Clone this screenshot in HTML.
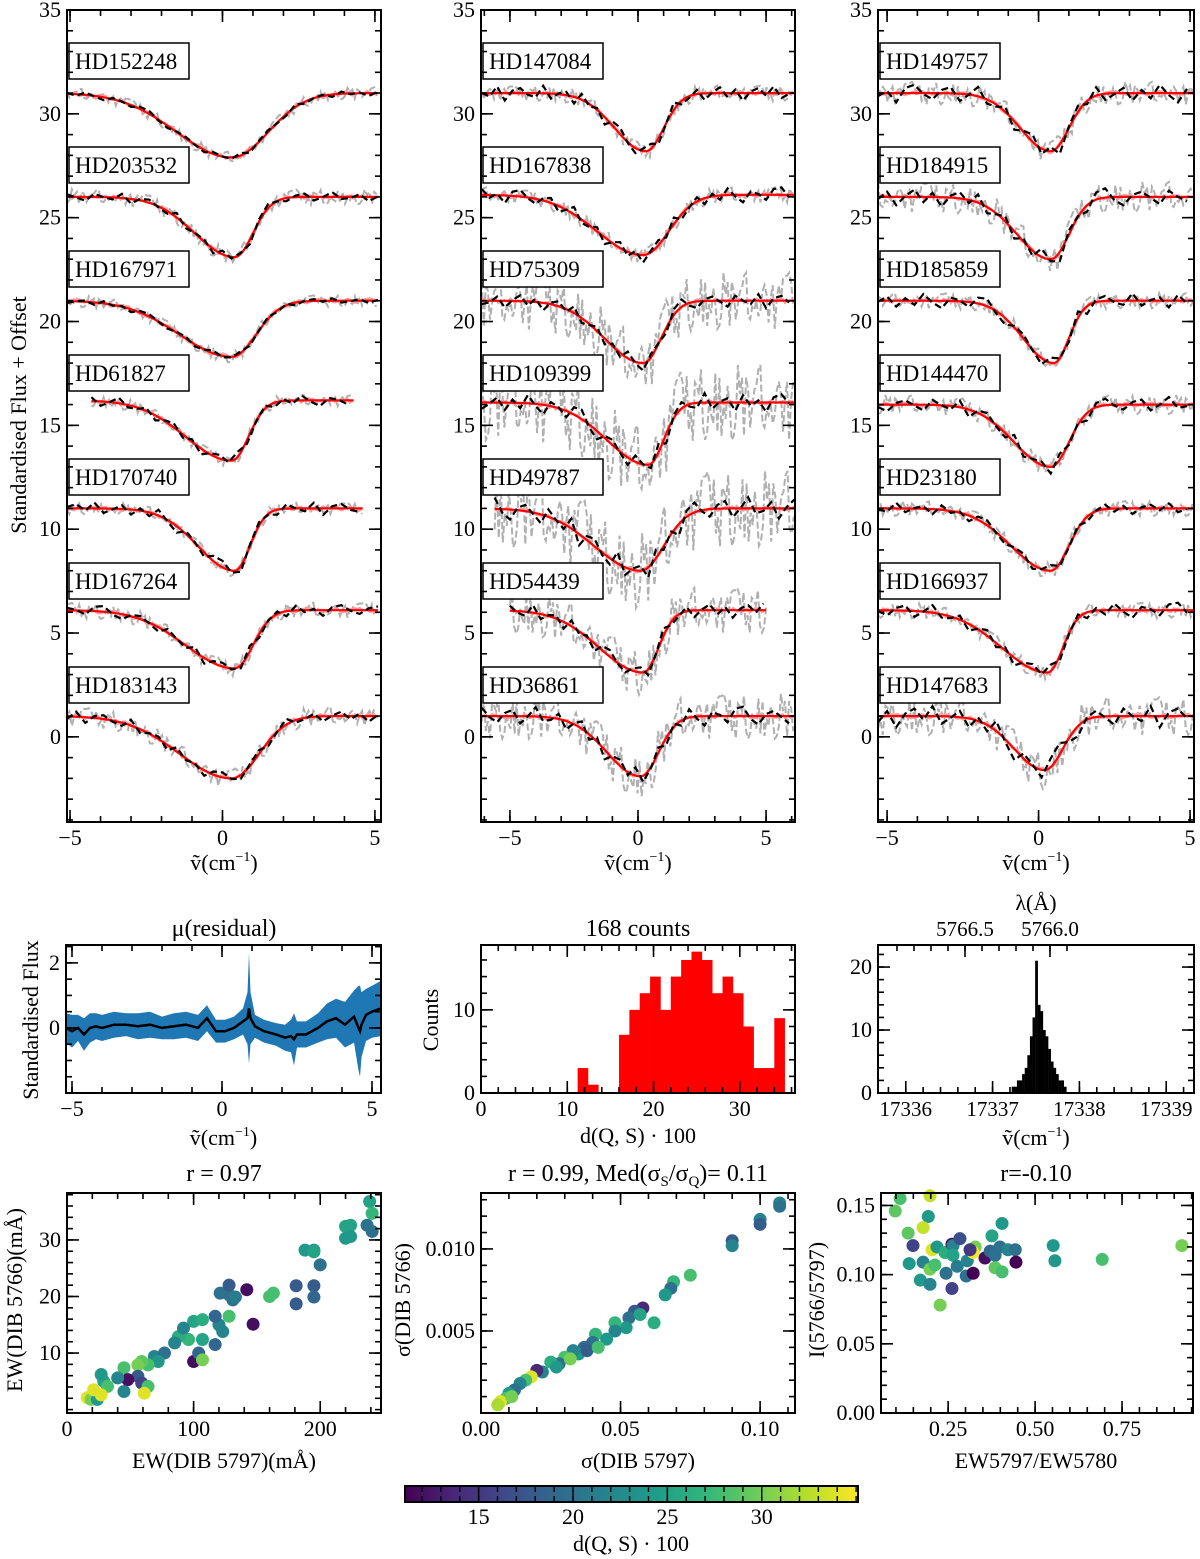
<!DOCTYPE html>
<html><head><meta charset="utf-8"><style>
html,body{margin:0;padding:0;background:#fff;}
svg{display:block;font-family:"Liberation Serif",serif;}
</style></head><body>
<svg id="fig" width="1200" height="1559" viewBox="0 0 1200 1559" xmlns="http://www.w3.org/2000/svg">
<defs>
<linearGradient id="vir" x1="0" x2="1" y1="0" y2="0">
<stop offset="0" stop-color="#440154"/><stop offset="0.11" stop-color="#482878"/><stop offset="0.22" stop-color="#3e4a89"/><stop offset="0.33" stop-color="#31688e"/><stop offset="0.44" stop-color="#26828e"/><stop offset="0.56" stop-color="#1f9e89"/><stop offset="0.67" stop-color="#35b779"/><stop offset="0.78" stop-color="#6ece58"/><stop offset="0.89" stop-color="#b5de2b"/><stop offset="1" stop-color="#fde725"/>
</linearGradient>
</defs>
</svg>
<script>
// ---------- data ----------
const leftStars = ["HD152248","HD203532","HD167971","HD61827","HD170740","HD167264","HD183143"];
const midStars = ["HD147084","HD167838","HD75309","HD109399","HD49787","HD54439","HD36861"];
const rightStars = ["HD149757","HD184915","HD185859","HD144470","HD23180","HD166937","HD147683"];
// base, depth, center, sigmaLeft, sigmaRight, xmin, xmax, grayAmp, blackAmp
const leftParams = [[31,3.1,0.3,1.8,1.2,-5.1,5.1,0.3,0.15],[26,2.9,0.4,1.3,0.6,-5.1,5.1,0.4,0.25],[21,2.7,0.3,1.7,0.8,-5.1,5.1,0.3,0.15],[16.2,2.9,0.3,1.5,0.55,-4.3,4.3,0.3,0.3],[11,3.0,0.4,1.2,0.5,-5.1,4.6,0.3,0.35],[6.1,2.8,0.4,1.6,0.6,-5.1,5.1,0.4,0.3],[1.0,3.0,0.3,1.7,0.9,-5.1,5.1,0.5,0.3]];
const midParams = [[31,2.8,0.3,1.2,0.7,-6.1,6.1,0.4,0.4],[26.1,2.9,0.2,1.8,1.0,-6.1,6.1,0.4,0.4],[21,3.0,0.2,1.5,0.7,-6.1,6.1,1.5,0.4],[16.1,3.0,0.4,1.6,0.6,-6.1,6.1,2.0,0.5],[11,3.0,0.1,1.8,0.9,-5.6,6.1,2.0,0.6],[6.1,3.0,0.2,1.7,0.6,-5.0,5.0,1.2,0.4],[1.0,2.9,0.1,1.3,0.7,-6.1,6.1,1.2,0.5]];
const rightParams = [[31,2.8,0.4,1.0,0.6,-5.3,5.1,0.6,0.5],[26,3.0,0.4,1.1,0.6,-5.3,5.1,0.8,0.5],[21,3.0,0.5,1.0,0.5,-5.3,5.1,0.4,0.4],[16,3.0,0.4,1.2,0.6,-5.3,5.1,0.5,0.4],[11,3.0,0.4,1.3,0.6,-5.3,5.1,0.4,0.3],[6.1,3.0,0.3,1.5,0.5,-5.3,5.1,0.4,0.4],[1.0,2.6,0.2,1.0,0.6,-5.3,5.1,1.0,0.6]];
const noisePattern = [0.3,-0.5,0.8,-0.2,-0.9,0.4,0.1,-0.6,0.7,0.9,-0.3,-0.8,0.2,0.5,-0.1,-0.7,0.6,0.0,-0.4,0.8,-0.9,0.3,0.6,-0.2,-0.5,0.9,-0.6,0.1,0.4,-0.8,0.7,-0.3,0.2,-0.9,0.5,0.8,-0.1,-0.6,0.3,0.6,-0.7,0.0,0.9,-0.4,-0.2,0.5,-0.8,0.1,0.7,-0.5,0.4,-0.9,0.2,0.6,-0.3,0.8,-0.6,-0.1,0.5,-0.7];

const residX = [-5.2,-5.0,-4.8,-4.6,-4.4,-4.2,-4.0,-3.6,-3.2,-2.8,-2.4,-2.0,-1.6,-1.2,-0.8,-0.5,-0.2,0.1,0.4,0.7,0.85,0.9,0.95,1.1,1.4,1.8,2.1,2.3,2.4,2.5,2.8,3.2,3.5,3.8,4.1,4.4,4.55,4.6,4.65,4.8,5.0,5.3];
const residMean = [0.0,-0.1,0.0,-0.2,0.0,0.05,0.0,0.1,0.1,0.05,0.1,0.0,0.05,0.1,0.0,0.3,-0.1,-0.1,0.0,0.2,0.3,0.6,0.3,0.05,-0.1,-0.2,-0.3,-0.25,-0.35,-0.2,-0.2,0.0,0.2,0.3,0.1,0.35,0.0,-0.1,0.1,0.4,0.5,0.6];
const residBand = [0.45,0.5,0.4,0.5,0.45,0.4,0.4,0.4,0.35,0.4,0.4,0.35,0.4,0.4,0.4,0.4,0.35,0.35,0.35,0.4,0.8,1.7,0.8,0.35,0.35,0.35,0.4,0.5,0.8,0.4,0.4,0.45,0.55,0.6,0.7,0.8,1.3,1.4,1.0,0.8,0.8,0.85];

const countBins = [11.2,12.4,13.6,14.8,16.0,17.2,18.4,19.6,20.8,22.0,23.2,24.4,25.6,26.8,28.0,29.2,30.4,31.6,32.8,34.0];
const countVals = [3,1,0,0,7,10,12,14,10,14,16,17,16,12,14,12,8,3,3,9];
const countWidth = 1.2;

const waveBins = [17337.22,17337.25,17337.28,17337.31,17337.34,17337.37,17337.40,17337.43,17337.46,17337.49,17337.52,17337.55,17337.58,17337.61,17337.64,17337.67,17337.70,17337.73,17337.76,17337.79,17337.82];
const waveVals = [1,1,2,2,3,4,6,9,12,21,14,13,10,9,7,5,4,3,2,2,1];
const waveWidth = 0.03;

const ewX = [239,241,237,241,220,224,220,224,188,195,195,200,181,181,195,195,160,163,147,142,121,128,131,133,128,120,123,117,117,128,100,107,107,96,88,85,92,100,104,107,69,77,72,64,59,56,45,56,48,59,64,61,40,29,27,32,45,16,19,24,27,21];
const ewY = [36.8,34.7,32.6,31.5,32.4,32.6,30.3,30.6,28.2,28.2,27.9,25.6,21.9,18.7,21.9,19.9,20.0,20.6,15.1,21.2,20.6,20.3,19.4,19.9,22.0,15.0,13.8,16.5,11.5,16.5,15.6,15.9,12.4,12.4,12.9,11.8,14.4,8.5,10.0,8.8,9.4,10.0,8.5,7.9,8.5,7.9,7.4,5.9,5.3,4.7,4.1,2.9,5.6,5.0,6.2,4.1,3.2,2.1,1.8,1.8,2.6,3.5];
const ewC = [25,27,20,20,25,25,24,24,24,24,25,20,18,18,18,19,28,28,12,12,20,20,20,21,18,22,22,19,19,28,25,26,25,27,26,22,22,12,19,30,22,20,24,28,29,30,28,18,12,16,28,34,22,25,24,28,22,34,30,24,34,34];

const sigX = [0.107,0.107,0.100,0.100,0.090,0.090,0.075,0.069,0.068,0.066,0.058,0.055,0.053,0.052,0.048,0.048,0.041,0.040,0.037,0.035,0.033,0.030,0.028,0.025,0.022,0.020,0.018,0.016,0.014,0.012,0.010,0.009,0.007,0.006,0.011,0.045,0.032,0.027,0.038,0.042,0.057,0.062];
const sigY = [0.0128,0.0126,0.0118,0.0115,0.0105,0.0102,0.0084,0.0080,0.0076,0.0072,0.0064,0.0062,0.0058,0.0052,0.0055,0.0050,0.0048,0.0043,0.0040,0.0036,0.0038,0.0034,0.0030,0.0031,0.0025,0.0026,0.0022,0.0020,0.0018,0.0014,0.0012,0.0009,0.0007,0.0005,0.0010,0.0045,0.0033,0.0028,0.0038,0.0040,0.0060,0.0055];
const sigC = [22,20,22,18,18,22,28,27,20,24,14,18,20,24,27,22,27,20,19,24,22,28,20,26,22,14,34,28,22,20,24,28,34,32,30,24,30,24,18,28,25,26];

const ratX = [0.112,0.098,0.198,0.193,0.178,0.135,0.149,0.138,0.170,0.198,0.227,0.204,0.218,0.178,0.198,0.212,0.241,0.261,0.264,0.284,0.264,0.244,0.276,0.261,0.305,0.302,0.322,0.328,0.322,0.313,0.376,0.405,0.356,0.371,0.385,0.399,0.422,0.443,0.445,0.385,0.405,0.552,0.557,0.693,0.922];
const ratY = [0.155,0.146,0.157,0.142,0.134,0.130,0.121,0.108,0.096,0.093,0.078,0.118,0.120,0.109,0.104,0.107,0.116,0.122,0.121,0.126,0.114,0.101,0.106,0.090,0.110,0.099,0.101,0.120,0.116,0.118,0.128,0.137,0.112,0.117,0.114,0.120,0.118,0.118,0.109,0.105,0.102,0.121,0.110,0.111,0.121];
const ratC = [28,29,33,24,33,29,16,24,24,22,30,34,24,22,30,28,26,12,22,17,25,20,21,16,22,20,11,30,35,15,25,24,12,19,20,20,22,20,11,29,28,24,24,28,30];

const cbTicks = [15,20,25,30];

// ---------- helpers ----------
const NS = "http://www.w3.org/2000/svg";
const svg = document.getElementById("fig");
function mk(tag, attrs, parent) {
  const e = document.createElementNS(NS, tag);
  for (const k in attrs) e.setAttribute(k, attrs[k]);
  (parent || svg).appendChild(e);
  return e;
}
function txt(str, x, y, size, anchor, parent, rot) {
  const t = mk("text", {x: x, y: y, "font-size": size, "text-anchor": anchor || "middle", fill: "#000"}, parent);
  if (rot) t.setAttribute("transform", "rotate(" + rot + " " + x + " " + y + ")");
  t.textContent = str;
  return t;
}
const vir = [[68,1,84],[72,40,120],[62,74,137],[49,104,142],[38,130,142],[31,158,137],[53,183,121],[110,206,88],[181,222,43],[253,231,37]];
function vcol(v) {
  let t = (v - 11.1) / (35.1 - 11.1); t = Math.max(0, Math.min(1, t));
  const f = t * 9, i = Math.min(8, Math.floor(f)), r = f - i;
  const c = vir[i].map((a, k) => Math.round(a + (vir[i + 1][k] - a) * r));
  return "rgb(" + c.join(",") + ")";
}
function panel(name, x0, x1, y0, y1, xmin, xmax, ymin, ymax) {
  const g = mk("g", {});
  
  
  return {g, x0, x1, y0, y1, sx: v => x0 + (v - xmin) / (xmax - xmin) * (x1 - x0), sy: v => y1 - (v - ymin) / (ymax - ymin) * (y1 - y0), xmin, xmax, ymin, ymax};
}
function frame(p) {
  const r = mk("rect", {x: p.x0, y: p.y0, width: p.x1 - p.x0, height: p.y1 - p.y0, fill: "none", stroke: "#000", "stroke-width": 2}, p.g);
  
  
}
function range(a, b, s) { const o = []; for (let v = a; v <= b + s * 1e-6; v += s) o.push(Math.round(v / s) * s); return o; }
function xticks(p, majors, minors, labels, fs, top) {
  const g = mk("g", {stroke: "#000", "stroke-width": 1.6}, p.g);
  
  
  minors.forEach(v => { const x = p.sx(v); if (x < p.x0 - 0.5 || x > p.x1 + 0.5) return;
    mk("line", {x1: x, x2: x, y1: p.y1, y2: p.y1 - 6}, g); if (top !== false) mk("line", {x1: x, x2: x, y1: p.y0, y2: p.y0 + 6}, g); });
  majors.forEach((v, i) => { const x = p.sx(v);
    mk("line", {x1: x, x2: x, y1: p.y1, y2: p.y1 - 12}, g); if (top !== false) mk("line", {x1: x, x2: x, y1: p.y0, y2: p.y0 + 12}, g);
    const t = txt(labels[i], x, p.y1 + 23, fs || 22, "middle", p.g);
    
     });
}
function yticks(p, majors, minors, labels, fs) {
  const g = mk("g", {stroke: "#000", "stroke-width": 1.6}, p.g);
  
  
  minors.forEach(v => { const y = p.sy(v); if (y < p.y0 - 0.5 || y > p.y1 + 0.5) return;
    mk("line", {x1: p.x0, x2: p.x0 + 6, y1: y, y2: y}, g); mk("line", {x1: p.x1, x2: p.x1 - 6, y1: y, y2: y}, g); });
  majors.forEach((v, i) => { const y = p.sy(v);
    mk("line", {x1: p.x0, x2: p.x0 + 12, y1: y, y2: y}, g); mk("line", {x1: p.x1, x2: p.x1 - 12, y1: y, y2: y}, g);
    const t = txt(labels[i], p.x0 - 6, y + 7, fs || 22, "end", p.g);
    
     });
}
function xlabelNu(p, y) {
  const t = mk("text", {x: (p.x0 + p.x1) / 2, y: y, "font-size": 22, "text-anchor": "middle"}, p.g);
  
  
  const a = mk("tspan", {}, t); a.textContent = "\u1E7D(cm";
  const b = mk("tspan", {"font-size": 14, dy: -9}, t); b.textContent = "\u22121";
  const c = mk("tspan", {dy: 9}, t); c.textContent = ")";
}
function pathD(pts) { return pts.map((q, i) => (i ? "L" : "M") + q[0].toFixed(1) + "," + q[1].toFixed(1)).join(""); }

// ---------- spectral panels ----------
function profile(par, x) {
  const [b, d, c, sl, sr] = par;
  const s = x < c ? sl : sr;
  return b - d * Math.exp(-0.5 * Math.pow((x - c) / s, 2));
}
function specPanel(name, stars, params, x0, x1, xmin, xmax, seedOff) {
  const p = panel(name, x0, x1, 10, 822, xmin, xmax, -4.1, 35);
  const clip = mk("clipPath", {id: "clip-" + name}, svg);
  mk("rect", {x: x0, y: 10, width: x1 - x0, height: 812}, clip);
  const dg = mk("g", {"clip-path": "url(#clip-" + name + ")"}, p.g);
  params.forEach((par, k) => {
    const xa = par[5], xb = par[6];
    const gray = [], black = [], red = [], pink = [];
    let i = 0;
    for (let x = xa; x <= xb + 1e-6; x += 0.08, i++) {
      gray.push([p.sx(x), p.sy(profile(par, x) + par[7] * noisePattern[(i * 7 + k * 11 + seedOff) % 60])]);
      pink.push([p.sx(x), p.sy(profile(par, x) + 0.12 * noisePattern[(i * 3 + k * 5 + seedOff) % 60])]);
    }
    i = 0;
    for (let x = xa; x <= xb + 1e-6; x += 0.3, i++) {
      black.push([p.sx(x), p.sy(profile(par, x) + par[8] * noisePattern[(i + k * 13 + seedOff) % 60])]);
    }
    for (let x = xa; x <= xb + 1e-6; x += 0.05) red.push([p.sx(x), p.sy(profile(par, x))]);
    const g1 = mk("path", {d: pathD(gray), fill: "none", stroke: "#b0b0b0", "stroke-width": 2, "stroke-dasharray": "7,3"}, dg);
    
    
    const g2 = mk("path", {d: pathD(pink), fill: "none", stroke: "#f4a0a0", "stroke-width": 2}, dg);
    
    
    const g3 = mk("path", {d: pathD(red), fill: "none", stroke: "#ff0000", "stroke-width": 2.2}, dg);
    
    
    const g4 = mk("path", {d: pathD(black), fill: "none", stroke: "#000", "stroke-width": 2.2, "stroke-dasharray": "7,4"}, dg);
    
    
    const by = 43 + k * 104;
    const box = mk("rect", {x: x0 + 2, y: by, width: 120, height: 36, fill: "#fff", stroke: "#000", "stroke-width": 1.5}, p.g);
    
    
    const t = txt(stars[k], x0 + 8, by + 26, 23, "start", p.g);
    
    
  });
  frame(p);
  xticks(p, [-5, 0, 5], range(-6, 6, 1), ["\u22125", "0", "5"]);
  yticks(p, range(0, 35, 5), range(-4, 35, 1), range(0, 35, 5).map(String));
  xlabelNu(p, 870);
  return p;
}
specPanel("panel-left-spectra", leftStars, leftParams, 67, 381, -5.1, 5.2, 0);
specPanel("panel-middle-spectra", midStars, midParams, 481, 795, -6.13, 6.13, 17);
specPanel("panel-right-spectra", rightStars, rightParams, 878, 1194, -5.3, 5.13, 31);
const yl = txt("Standardised Flux + Offset", 26, 415, 22, "middle", svg, -90);



// ---------- residual panel ----------
(function () {
  const p = panel("panel-residual", 66, 381, 945, 1093, -5.2, 5.3, -2.0, 2.55);
  const up = residX.map((x, i) => [p.sx(x), p.sy(residMean[i] + residBand[i])]);
  const dn = residX.map((x, i) => [p.sx(x), p.sy(residMean[i] - residBand[i])]).reverse();
  const band = mk("path", {d: pathD(up.concat(dn)) + "Z", fill: "#1f77b4"}, p.g);
  
  
  const m = mk("path", {d: pathD(residX.map((x, i) => [p.sx(x), p.sy(residMean[i])])), fill: "none", stroke: "#000", "stroke-width": 2.5}, p.g);
  
  
  frame(p);
  xticks(p, [-5, 0, 5], range(-5, 5, 1), ["\u22125", "0", "5"]);
  yticks(p, [0, 2], range(-1.5, 2.5, 0.5), ["0", "2"]);
  xlabelNu(p, 1145);
  const t = txt("\u03BC(residual)", 224, 936, 24, "middle", p.g);
  
  
  const y = txt("Standardised Flux", 38, 1020, 22, "middle", p.g, -90);
  
  
})();

// ---------- counts histogram ----------
(function () {
  const p = panel("panel-distance-histogram", 481, 795, 945, 1093, 0, 36.4, 0, 17.8);
  countBins.forEach((b, i) => {
    if (!countVals[i]) return;
    const r = mk("rect", {x: p.sx(b), y: p.sy(countVals[i]), width: p.sx(b + countWidth) - p.sx(b) + 0.3, height: p.sy(0) - p.sy(countVals[i]), fill: "#ff0000"}, p.g);
    
    
  });
  frame(p);
  xticks(p, [0, 10, 20, 30], range(0, 36, 2), ["0", "10", "20", "30"]);
  yticks(p, [0, 10], range(0, 17, 2), ["0", "10"]);
  const t = txt("168 counts", 638, 936, 24, "middle", p.g);
  
  
  const xl = txt("d(Q, S) \u00B7 100", 638, 1143, 22, "middle", p.g);
  
  
  const y = txt("Counts", 438, 1020, 22, "middle", p.g, -90);
  
  
})();

// ---------- wavenumber histogram ----------
(function () {
  const p = panel("panel-wavenumber-histogram", 878, 1194, 945, 1093, 17335.68, 17339.32, 0, 23.5);
  waveBins.forEach((b, i) => {
    const r = mk("rect", {x: p.sx(b), y: p.sy(waveVals[i]), width: p.sx(b + waveWidth) - p.sx(b) + 0.2, height: p.sy(0) - p.sy(waveVals[i]), fill: "#000"}, p.g);
    
    
  });
  frame(p);
  xticks(p, [17336, 17337, 17338, 17339], range(17335.8, 17339.2, 0.2), ["17336", "17337", "17338", "17339"], 21, false);
  yticks(p, [0, 10, 20], range(0, 22, 2), ["0", "10", "20"]);
  const lam = v => 965 + (5766.5 - v) * 170;
  const g = mk("g", {stroke: "#000", "stroke-width": 1.6}, p.g);
  
  
  range(5765.9, 5766.9, 0.1).forEach(v => { const x = lam(v); if (x < 879 || x > 1193) return; mk("line", {x1: x, x2: x, y1: 945, y2: 951}, g); });
  [5766.5, 5766.0].forEach(v => { mk("line", {x1: lam(v), x2: lam(v), y1: 945, y2: 957}, g);
    const t = txt(v.toFixed(1), lam(v), 936, 21, "middle", p.g);
    
     });
  const tl = txt("\u03BB(\u00C5)", 1036, 910, 22, "middle", p.g);
  
  
  xlabelNu(p, 1145);
})();

// ---------- scatter panels ----------
function scatter(name, x0, x1, xmin, xmax, ymin, ymax, xs, ys, cs) {
  const p = panel(name, x0, x1, 1193, 1413, xmin, xmax, ymin, ymax);
  xs.forEach((x, i) => {
    const c = mk("circle", {cx: p.sx(x), cy: p.sy(ys[i]), r: 6.5, fill: vcol(cs[i])}, p.g);
    
    
  });
  frame(p);
  return p;
}
(function () {
  const p = scatter("panel-ew-scatter", 67, 381, 0, 248, -0.6, 38.3, ewX, ewY, ewC);
  xticks(p, [0, 100, 200], range(0, 240, 20), ["0", "100", "200"]);
  yticks(p, [10, 20, 30], range(0, 38, 2), ["10", "20", "30"]);
  const t = txt("r =  0.97", 224, 1181, 24, "middle", p.g);
  
  
  const xl = txt("EW(DIB 5797)(m\u00C5)", 224, 1468, 22, "middle", p.g);
  
  
  const y = txt("EW(DIB 5766)(m\u00C5)", 22, 1300, 22, "middle", p.g, -90);
  
  
})();
(function () {
  const p = scatter("panel-sigma-scatter", 481, 795, 0, 0.1125, 0, 0.01341, sigX, sigY, sigC);
  xticks(p, [0, 0.05, 0.1], range(0, 0.11, 0.01), ["0.00", "0.05", "0.10"]);
  yticks(p, [0.005, 0.01], range(0.001, 0.013, 0.001), ["0.005", "0.010"]);
  const t = mk("text", {x: 638, y: 1181, "font-size": 24, "text-anchor": "middle"}, p.g);
  
  
  t.innerHTML = 'r =  0.99, Med(\u03C3<tspan font-size="15" dy="5">S</tspan><tspan dy="-5">/\u03C3</tspan><tspan font-size="15" dy="5">Q</tspan><tspan dy="-5">)= 0.11</tspan>';
  const xl = txt("\u03C3(DIB 5797)", 638, 1468, 22, "middle", p.g);
  
  
  const y = txt("\u03C3(DIB 5766)", 410, 1300, 22, "middle", p.g, -90);
  
  
})();
(function () {
  const p = scatter("panel-ratio-scatter", 881, 1193, 0.057, 0.954, 0, 0.159, ratX, ratY, ratC);
  xticks(p, [0.25, 0.5, 0.75], range(0.1, 0.95, 0.05), ["0.25", "0.50", "0.75"]);
  yticks(p, [0, 0.05, 0.1, 0.15], range(0, 0.15, 0.01), ["0.00", "0.05", "0.10", "0.15"]);
  const t = txt("r=-0.10", 1036, 1181, 24, "middle", p.g);
  
  
  const xl = txt("EW5797/EW5780", 1036, 1468, 22, "middle", p.g);
  
  
  const y = txt("I(5766/5797)", 824, 1300, 22, "middle", p.g, -90);
  
  
})();

// ---------- colorbar ----------
(function () {
  const g = mk("g", {});
  
  
  const x0 = 405, x1 = 858, vmin = 11.1, vmax = 35.1;
  const sx = v => x0 + (v - vmin) / (vmax - vmin) * (x1 - x0);
  mk("rect", {x: x0, y: 1486, width: x1 - x0, height: 16, fill: "url(#vir)", stroke: "#000", "stroke-width": 2}, g);
  const tg = mk("g", {stroke: "#000", "stroke-width": 1.4}, g);
  range(12, 35, 1).forEach(v => { mk("line", {x1: sx(v), x2: sx(v), y1: 1502, y2: 1496}, tg); mk("line", {x1: sx(v), x2: sx(v), y1: 1486, y2: 1492}, tg); });
  cbTicks.forEach(v => {
    mk("line", {x1: sx(v), x2: sx(v), y1: 1502, y2: 1490}, tg);
    const t = txt(String(v), sx(v), 1524, 22, "middle", g);
    
    
  });
  const l = txt("d(Q, S) \u00B7 100", 631, 1551, 22, "middle", g);
  
  
})();
</script>
</body></html>
